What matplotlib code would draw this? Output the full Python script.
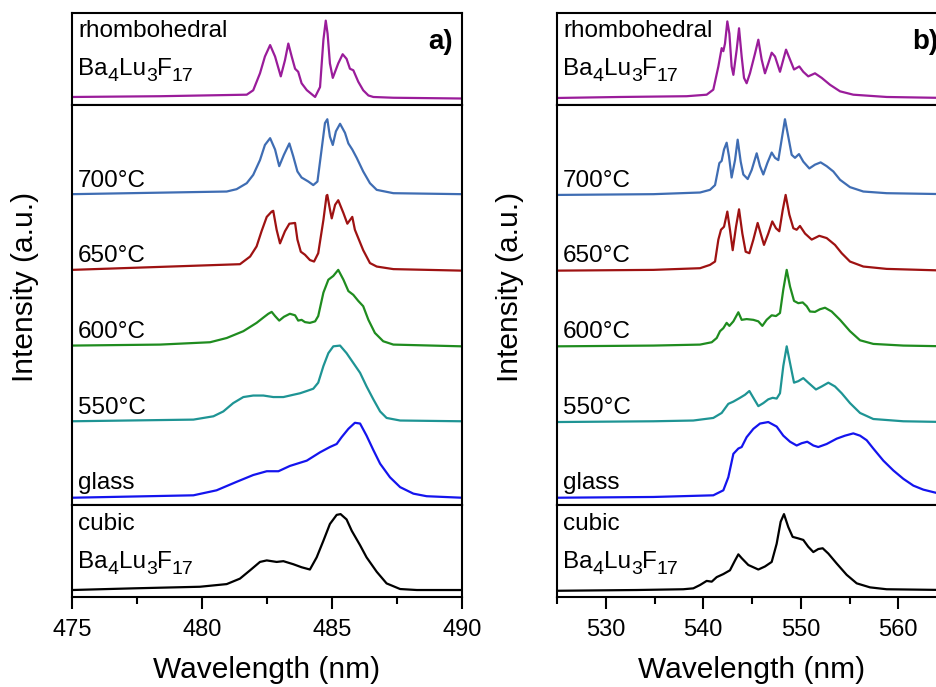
import numpy as np
import matplotlib
matplotlib.use('Agg')
import matplotlib.pyplot as plt
from matplotlib.ticker import MultipleLocator
from matplotlib.transforms import offset_copy

plt.rcParams['font.family'] = ['Liberation Sans', 'DejaVu Sans']

# ---- panel a) spectra, (wavelength nm, normalised intensity) ----
a_rhombo = [(475.0, 0.0), (478.38, 0.01), (481.72, 0.03), (481.97, 0.088), (482.23, 0.31), (482.42, 0.53),
            (482.62, 0.68), (482.81, 0.53), (483.03, 0.27), (483.19, 0.48), (483.32, 0.70), (483.45, 0.53),
            (483.58, 0.37), (483.70, 0.33), (483.83, 0.18), (484.03, 0.09), (484.35, 0.0), (484.54, 0.13),
            (484.67, 0.75), (484.76, 1.0), (484.83, 0.83), (484.92, 0.44), (485.03, 0.25), (485.24, 0.44),
            (485.41, 0.56), (485.56, 0.50), (485.69, 0.37), (485.82, 0.35), (486.01, 0.20), (486.20, 0.088),
            (486.40, 0.02), (486.59, 0.0), (487.36, -0.01), (490.0, -0.02)]
a_700 = [(475.0, 0.0), (480.95, 0.035), (481.33, 0.066), (481.72, 0.145), (481.97, 0.255), (482.23, 0.45),
         (482.42, 0.65), (482.62, 0.74), (482.81, 0.59), (482.97, 0.37), (483.15, 0.52), (483.36, 0.67),
         (483.51, 0.50), (483.67, 0.30), (483.83, 0.22), (484.09, 0.167), (484.28, 0.12), (484.44, 0.167),
         (484.60, 0.59), (484.73, 0.94), (484.82, 0.99), (484.92, 0.76), (485.03, 0.65), (485.15, 0.83),
         (485.31, 0.93), (485.50, 0.81), (485.63, 0.67), (485.78, 0.59), (485.95, 0.48), (486.20, 0.30),
         (486.46, 0.145), (486.72, 0.057), (487.36, 0.013), (490.0, 0.0)]
a_650 = [(475.0, 0.0), (481.46, 0.075), (481.85, 0.176), (482.10, 0.31), (482.29, 0.51), (482.49, 0.70),
         (482.68, 0.77), (482.74, 0.78), (482.87, 0.53), (483.00, 0.35), (483.19, 0.51), (483.36, 0.61),
         (483.58, 0.62), (483.67, 0.40), (483.80, 0.24), (483.96, 0.20), (484.15, 0.13), (484.31, 0.11),
         (484.47, 0.22), (484.67, 0.66), (484.79, 0.98), (484.82, 0.99), (484.92, 0.80), (484.99, 0.68),
         (485.12, 0.86), (485.24, 0.92), (485.44, 0.75), (485.59, 0.61), (485.78, 0.70), (485.88, 0.53),
         (486.01, 0.42), (486.20, 0.26), (486.46, 0.09), (486.72, 0.044), (487.36, 0.01), (490.0, -0.01)]
a_600 = [(475.0, 0.0), (478.38, 0.013), (480.31, 0.044), (480.95, 0.10), (481.59, 0.19), (482.10, 0.30),
         (482.36, 0.37), (482.55, 0.42), (482.68, 0.445), (482.81, 0.39), (482.97, 0.33), (483.15, 0.38),
         (483.38, 0.42), (483.58, 0.40), (483.70, 0.33), (483.83, 0.34), (483.96, 0.31), (484.15, 0.30),
         (484.35, 0.32), (484.47, 0.39), (484.67, 0.70), (484.86, 0.87), (485.05, 0.92), (485.24, 1.0),
         (485.44, 0.87), (485.63, 0.72), (485.82, 0.67), (486.01, 0.59), (486.20, 0.52), (486.40, 0.34),
         (486.65, 0.167), (486.97, 0.057), (487.36, 0.013), (490.0, -0.01)]
a_550 = [(475.0, 0.0), (479.67, 0.022), (480.44, 0.066), (480.82, 0.13), (481.20, 0.24), (481.59, 0.32),
         (481.97, 0.34), (482.36, 0.34), (482.74, 0.32), (483.13, 0.32), (483.51, 0.35), (483.77, 0.37),
         (484.03, 0.40), (484.28, 0.43), (484.47, 0.51), (484.67, 0.73), (484.86, 0.90), (485.05, 0.99),
         (485.31, 1.0), (485.56, 0.90), (485.82, 0.77), (486.08, 0.64), (486.33, 0.46), (486.59, 0.29),
         (486.85, 0.13), (487.10, 0.044), (487.62, 0.01), (490.0, 0.0)]
a_glass = [(475.0, -0.01), (479.67, 0.022), (480.56, 0.088), (481.33, 0.20), (481.97, 0.29), (482.49, 0.34),
           (482.94, 0.34), (483.38, 0.41), (484.03, 0.48), (484.54, 0.59), (484.92, 0.66), (485.18, 0.70),
           (485.37, 0.79), (485.63, 0.90), (485.88, 0.98), (486.08, 0.97), (486.33, 0.81), (486.59, 0.62),
           (486.85, 0.44), (487.23, 0.26), (487.62, 0.13), (488.13, 0.044), (488.64, 0.01), (490.0, -0.01)]
a_cubic = [(475.0, 0.0), (477.36, 0.022), (479.92, 0.043), (480.95, 0.078), (481.46, 0.15), (481.85, 0.26),
           (482.23, 0.37), (482.49, 0.39), (482.87, 0.37), (483.13, 0.38), (483.51, 0.34), (483.83, 0.30),
           (484.15, 0.27), (484.41, 0.43), (484.67, 0.65), (484.92, 0.87), (485.18, 0.99), (485.33, 1.0),
           (485.56, 0.93), (485.76, 0.78), (486.08, 0.59), (486.33, 0.43), (486.72, 0.24), (487.10, 0.087),
           (487.62, 0.013), (488.26, 0.0), (490.0, 0.0)]

# ---- panel b) spectra ----
b_rhombo = [(525.0, -0.013), (531.46, 0.0), (538.30, 0.01), (540.35, 0.03), (541.03, 0.096), (541.55, 0.40),
            (541.89, 0.64), (542.06, 0.60), (542.23, 0.70), (542.47, 0.99), (542.68, 0.83), (542.91, 0.40),
            (543.09, 0.29), (543.43, 0.62), (543.67, 0.90), (543.94, 0.53), (544.18, 0.25), (544.45, 0.18),
            (544.79, 0.31), (545.31, 0.57), (545.65, 0.75), (545.99, 0.49), (546.33, 0.31), (546.67, 0.44),
            (547.02, 0.58), (547.36, 0.53), (547.87, 0.33), (548.21, 0.49), (548.49, 0.62), (548.90, 0.49),
            (549.31, 0.36), (549.85, 0.40), (550.26, 0.33), (550.77, 0.27), (551.46, 0.31), (552.15, 0.25),
            (553.00, 0.16), (554.03, 0.074), (555.39, 0.03), (558.81, 0.0), (565.0, -0.013)]
b_700 = [(525.0, -0.01), (534.88, 0.0), (539.67, 0.022), (540.69, 0.057), (541.21, 0.12), (541.65, 0.41),
         (541.89, 0.44), (542.13, 0.59), (542.40, 0.68), (542.64, 0.50), (542.91, 0.22), (543.26, 0.45),
         (543.53, 0.72), (543.84, 0.43), (544.11, 0.26), (544.56, 0.20), (544.97, 0.32), (545.48, 0.54),
         (545.82, 0.37), (546.16, 0.26), (546.57, 0.41), (547.02, 0.55), (547.36, 0.48), (547.70, 0.45),
         (548.04, 0.72), (548.38, 0.99), (548.72, 0.76), (549.07, 0.52), (549.41, 0.48), (549.82, 0.53),
         (550.26, 0.43), (550.88, 0.34), (551.46, 0.39), (552.04, 0.42), (552.66, 0.37), (553.34, 0.30),
         (554.03, 0.19), (555.05, 0.093), (556.42, 0.035), (558.81, 0.013), (565.0, 0.0)]
b_650 = [(525.0, -0.01), (534.88, 0.0), (539.67, 0.022), (540.69, 0.066), (541.21, 0.11), (541.55, 0.40),
         (541.82, 0.53), (542.13, 0.57), (542.47, 0.77), (542.74, 0.53), (543.02, 0.26), (543.36, 0.57),
         (543.67, 0.80), (544.01, 0.48), (544.35, 0.24), (544.73, 0.22), (545.14, 0.40), (545.58, 0.62),
         (545.89, 0.48), (546.23, 0.33), (546.67, 0.48), (547.08, 0.64), (547.46, 0.55), (547.80, 0.51),
         (548.15, 0.79), (548.45, 0.99), (548.83, 0.73), (549.24, 0.55), (549.58, 0.53), (549.92, 0.58),
         (550.44, 0.48), (551.12, 0.40), (551.90, 0.45), (552.66, 0.42), (553.51, 0.33), (554.20, 0.22),
         (555.05, 0.11), (556.42, 0.044), (558.81, 0.013), (565.0, -0.01)]
b_600 = [(525.0, -0.01), (534.88, 0.0), (539.67, 0.013), (540.87, 0.044), (541.38, 0.10), (541.72, 0.19),
         (542.06, 0.23), (542.40, 0.30), (542.68, 0.26), (543.09, 0.32), (543.60, 0.44), (543.94, 0.34),
         (544.45, 0.35), (545.14, 0.34), (545.65, 0.32), (546.06, 0.26), (546.50, 0.34), (547.02, 0.40),
         (547.46, 0.39), (547.87, 0.43), (548.21, 0.74), (548.56, 1.0), (548.90, 0.78), (549.31, 0.59),
         (549.75, 0.56), (550.20, 0.57), (550.61, 0.52), (550.95, 0.45), (551.46, 0.445), (551.97, 0.48),
         (552.49, 0.50), (553.17, 0.45), (554.03, 0.34), (555.05, 0.19), (556.08, 0.07), (557.44, 0.022),
         (560.52, 0.0), (565.0, -0.01)]
b_550 = [(525.0, -0.01), (534.88, 0.0), (538.98, 0.01), (541.03, 0.044), (541.89, 0.11), (542.57, 0.23),
         (543.09, 0.26), (543.77, 0.31), (544.28, 0.35), (544.73, 0.40), (545.14, 0.31), (545.65, 0.20),
         (546.16, 0.24), (546.67, 0.29), (547.12, 0.31), (547.53, 0.30), (547.87, 0.37), (548.21, 0.73),
         (548.56, 0.99), (548.90, 0.77), (549.31, 0.51), (549.75, 0.53), (550.26, 0.57), (550.77, 0.51),
         (551.56, 0.42), (552.15, 0.46), (552.83, 0.51), (553.51, 0.46), (554.20, 0.37), (555.05, 0.24),
         (556.08, 0.11), (557.44, 0.03), (560.52, 0.0), (565.0, -0.01)]
b_glass = [(525.0, -0.01), (534.88, 0.0), (541.03, 0.022), (542.06, 0.088), (542.57, 0.26), (543.09, 0.57),
           (543.60, 0.64), (543.94, 0.66), (544.45, 0.79), (545.14, 0.90), (545.82, 0.97), (546.67, 0.99),
           (547.53, 0.93), (548.21, 0.81), (548.90, 0.73), (549.58, 0.68), (550.09, 0.71), (550.67, 0.73),
           (551.29, 0.68), (551.80, 0.66), (552.66, 0.70), (553.68, 0.77), (554.54, 0.81), (555.39, 0.84),
           (556.08, 0.81), (556.76, 0.75), (557.44, 0.64), (558.47, 0.48), (559.50, 0.35), (560.52, 0.24),
           (561.55, 0.15), (562.57, 0.097), (563.94, 0.053), (565.0, 0.03)]
b_cubic = [(525.0, -0.01), (533.17, 0.0), (537.95, 0.01), (538.98, 0.022), (539.67, 0.066), (540.35, 0.12),
           (540.87, 0.11), (541.38, 0.17), (542.06, 0.21), (542.74, 0.26), (543.26, 0.39), (543.60, 0.47),
           (543.94, 0.42), (544.62, 0.33), (545.65, 0.27), (546.33, 0.31), (547.02, 0.37), (547.53, 0.61),
           (547.94, 0.90), (548.28, 1.0), (548.72, 0.83), (549.17, 0.70), (549.75, 0.68), (550.26, 0.66),
           (550.77, 0.57), (551.29, 0.50), (551.80, 0.54), (552.25, 0.55), (552.83, 0.48), (553.68, 0.35),
           (554.71, 0.20), (555.74, 0.088), (557.10, 0.035), (558.81, 0.01), (565.0, 0.0)]

samples = ['glass', '550°C', '600°C', '650°C', '700°C']
colors = ['#1414EE', '#1E9494', '#1F8C1F', '#9E1212', '#3F6DB3']
rhombo_color = '#9A1C9A'
# formula pieces: (text, is_subscript)
formula = [('Ba', False), ('4', True), ('Lu', False), ('3', True), ('F', False), ('17', True)]

panels = [
    dict(xlim=(475, 490), major=5, minor=2.5, tag='a)',
         rhombo=a_rhombo, cubic=a_cubic, series=[a_glass, a_550, a_600, a_650, a_700]),
    dict(xlim=(525, 565), major=10, minor=5, tag='b)',
         rhombo=b_rhombo, cubic=b_cubic, series=[b_glass, b_550, b_600, b_650, b_700]),
]

W, H = 937, 687
fig = plt.figure(figsize=(W / 100, H / 100), dpi=100)
renderer = fig.canvas.get_renderer()

lefts = [72, 557]
width = 390
fs_lab = 17.5
fs_sub = 14


def chem_text(ax, x, y):
    # write the formula piece by piece so the subscripts sit low like the original
    dx = 0
    for s, sub in formula:
        tr = offset_copy(ax.transAxes, fig=fig, x=dx, y=-6 if sub else 0, units='dots')
        t = ax.text(x, y, s, transform=tr, fontsize=fs_sub if sub else fs_lab, va='baseline')
        dx += t.get_window_extent(renderer).width


for left, p in zip(lefts, panels):
    x0 = left / W
    w = width / W
    ax_top = fig.add_axes([x0, 1 - 105 / H, w, 92 / H])
    ax_mid = fig.add_axes([x0, 1 - 505 / H, w, 400 / H])
    ax_bot = fig.add_axes([x0, 1 - 597 / H, w, 92 / H])

    for ax in (ax_top, ax_mid, ax_bot):
        ax.set_xlim(*p['xlim'])
        for s in ax.spines.values():
            s.set_linewidth(1.5)
        ax.set_yticks([])

    # top: rhombohedral reference
    d = np.array(p['rhombo']).T
    ax_top.plot(d[0], d[1], color=rhombo_color, lw=1.6, solid_joinstyle='round')
    ax_top.set_ylim(-0.105, 1.1)
    ax_top.set_xticks([])
    ax_top.text(0.016, 0.74, 'rhombohedral', transform=ax_top.transAxes, fontsize=fs_lab, va='baseline')
    chem_text(ax_top, 0.016, 0.33)
    ax_top.text(0.977, 0.685, p['tag'], transform=ax_top.transAxes, fontsize=20, fontweight='bold',
                ha='right', va='center')

    # middle: stacked samples
    for k, (name, col, ser) in enumerate(zip(samples, colors, p['series'])):
        d = np.array(ser).T
        ax_mid.plot(d[0], d[1] + k, color=col, lw=1.6, solid_joinstyle='round')
        ax_mid.text(0.016, k + 0.1, name, transform=ax_mid.get_yaxis_transform(),
                    fontsize=fs_lab, va='baseline')
    ax_mid.set_ylim(-0.106, 5.178)
    ax_mid.set_xticks([])

    # bottom: cubic reference
    d = np.array(p['cubic']).T
    ax_bot.plot(d[0], d[1], color='black', lw=1.6, solid_joinstyle='round')
    ax_bot.set_ylim(-0.092, 1.12)
    ax_bot.text(0.016, 0.73, 'cubic', transform=ax_bot.transAxes, fontsize=fs_lab, va='baseline')
    chem_text(ax_bot, 0.016, 0.32)
    ax_bot.xaxis.set_major_locator(MultipleLocator(p['major']))
    ax_bot.xaxis.set_minor_locator(MultipleLocator(p['minor']))
    ax_bot.tick_params(axis='x', which='major', direction='out', length=8.5, width=1.5,
                       labelsize=17, pad=7.5)
    ax_bot.tick_params(axis='x', which='minor', direction='out', length=5, width=1.5)
    ax_bot.set_xlabel('Wavelength (nm)', fontsize=21.5, labelpad=10.5)

    fig.text((left - 47) / W, 1 - 287 / H, 'Intensity (a.u.)', rotation=90, fontsize=21.5,
             ha='center', va='center')

fig.savefig('out.png', dpi=100)
